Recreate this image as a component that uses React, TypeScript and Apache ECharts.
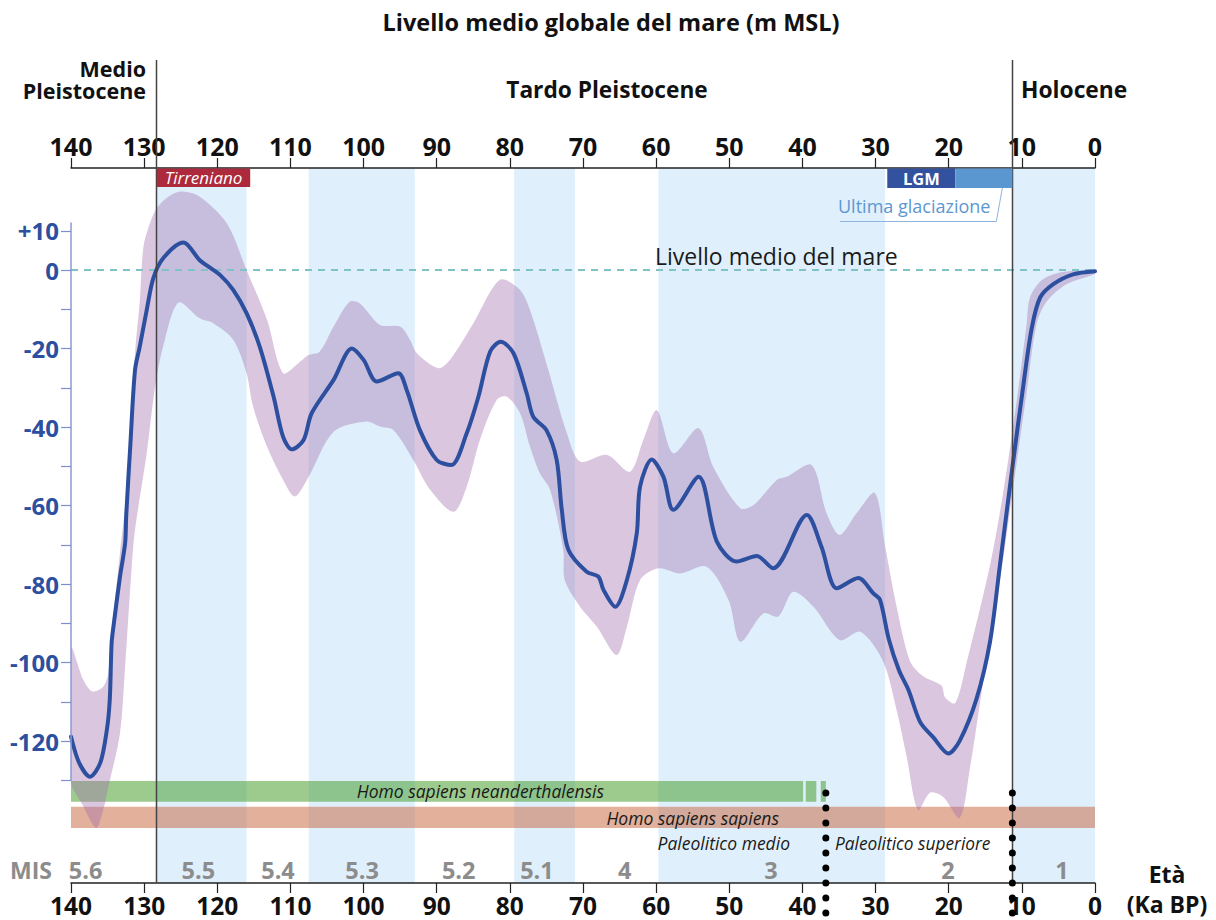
import React, { useEffect, useRef } from 'react';
import * as echarts from 'echarts';

// ---- data (age in ka BP, sea level in m relative to present) ----
const MEAN_AGE = [140, 138.9, 137.4, 136, 135.1, 134.7, 134.45, 134.2, 133.3, 132.6, 132.45, 131.9, 131.25, 130.6, 129.65, 128.75, 127.4, 124.65, 122.4, 121.2, 119.6, 117.8, 116, 114.2, 112.3, 111, 109.8, 108.2, 107.1, 104.1, 101.6, 100, 98.2, 95.25, 94.1, 92.3, 90, 88, 85.9, 84.3, 82.7, 81.25, 79.5, 77.7, 76.8, 75, 73.6, 72.9, 72, 69.5, 67.9, 67.2, 65.6, 64, 62.65, 62.2, 60.6, 59, 57.65, 54.2, 51.7, 49, 46.25, 44, 39.4, 37.4, 35.3, 32.35, 30.3, 29.4, 28.2, 26.8, 25.5, 23.9, 22.1, 20.05, 18.5, 16.2, 14.35, 13, 11.4, 9.8, 8.65, 7.5, 5.7, 3, 0];
const MEAN_SL = [-118.9, -125.5, -129.1, -125.6, -117.2, -109.5, -95.1, -90.9, -78.1, -69.6, -62.5, -45, -25.5, -19.5, -10.2, -2.1, 3, 7, 2.5, 0.85, -1.3, -5.1, -11, -19.5, -32.3, -42.5, -45.7, -43.3, -36.5, -28, -20, -22.9, -28.4, -26.3, -30.6, -40.8, -48.4, -49.7, -41.6, -32.3, -20.8, -18.3, -21.2, -31.4, -37.4, -40.8, -48.4, -61.1, -71.3, -76.9, -78.1, -81.5, -85.8, -79, -67.1, -55.2, -48.3, -52.7, -61.1, -52.7, -69.2, -74.3, -72.9, -76, -62.4, -70.5, -81.1, -78.5, -82.4, -84, -94, -102, -107, -115.2, -119.1, -123.2, -120, -109.3, -94.7, -75.2, -51.8, -29.4, -14.8, -7, -3.6, -1.1, -0.3];

const UP_AGE = [140, 138.3, 137.1, 135.6, 134.9, 134.6, 134.1, 133.3, 132.5, 131.9, 131.2, 130.6, 130.1, 129.2, 128.3, 126.6, 124.9, 122.4, 118.7, 116, 113.2, 111, 108.7, 107.6, 106, 104.1, 101.9, 100.5, 97.75, 95, 93.65, 92.7, 89.8, 88.2, 85, 81.35, 78.6, 77.25, 75, 72.2, 70.4, 66.75, 63.6, 61.75, 59.9, 57.65, 54.2, 52.2, 48.5, 46.7, 43.5, 42.15, 38.75, 36.7, 34.9, 32.6, 30.1, 28.7, 27.1, 25.3, 23.5, 21, 20.5, 19.1, 17.5, 14.35, 12.55, 10.7, 9.35, 8.9, 7.3, 4.8, 0];
const UP_SL = [-96.3, -104.5, -107.4, -106.2, -102.7, -94, -86, -72, -58, -40, -20, -8, 5.9, 12, 15.7, 18.8, 20, 18.7, 11.9, 0, -12.7, -26.3, -23.4, -21.7, -20.8, -14.4, -8.1, -8.5, -14, -14.4, -17.8, -21.2, -25, -22.9, -13.6, -2.5, -5.1, -10.2, -23.8, -41.6, -48.8, -47.1, -51.4, -43.3, -35.7, -46.7, -40.3, -50.1, -60.7, -59.9, -53.5, -52.7, -49.7, -62, -67.5, -62, -56.8, -70.4, -86, -99.6, -103.5, -105.9, -108.9, -110.3, -99.6, -75.2, -56.7, -33.3, -13.8, -7, -2.6, -0.6, -0.2];

const LOW_AGE = [140, 138.5, 136.6, 135.8, 134.7, 133.3, 132.6, 131.7, 131.25, 129.65, 128.5, 127.4, 125.3, 122.4, 120.5, 117.8, 116, 115.1, 113.2, 111, 109.4, 107.6, 104.1, 99.6, 97.75, 95.9, 93.2, 90.9, 87.7, 85.9, 84.1, 81.8, 80.4, 78.6, 77.25, 75.9, 74.5, 72.7, 72.5, 70.4, 68.1, 65.4, 64, 62.2, 59.7, 56.7, 53.1, 50.1, 48.5, 45.35, 43.3, 41.25, 38.5, 34.9, 32.1, 29, 27.1, 25.75, 24.2, 22.55, 20.75, 18.5, 17.1, 14.85, 13, 11.2, 9.35, 8, 6.6, 3.9, 0];
const LOW_SL = [-130.5, -136, -142.2, -139, -130.2, -118, -101, -75.6, -66.2, -46.7, -29.7, -19.5, -8.3, -12.3, -13.6, -17.8, -26.3, -34.8, -45, -53.5, -57.7, -53, -41.2, -38.6, -39.9, -40.8, -48.4, -56, -61.6, -55.2, -43.3, -33.1, -32.3, -36.5, -45, -51.8, -56, -71.3, -79, -85.8, -90.9, -98.1, -90.9, -79, -76, -77.3, -75.6, -84.1, -94.7, -87.5, -88.3, -82, -85.8, -94.3, -92.2, -99.6, -112.3, -124, -137.6, -133.2, -134.3, -139.6, -126.9, -99.6, -79.1, -55.7, -31.3, -13.8, -8, -3.6, -1];

// shaded MIS stages (odd stages / interstadials)
const MIS_BANDS: [number, number][] = [[128.4, 116], [107.5, 93], [79.4, 71.1], [59.7, 28.7], [11.3, 0]];
const MIS_LABELS = ['5.6', '5.5', '5.4', '5.3', '5.2', '5.1', '4', '3', '2', '1'];
const MIS_LABEL_AGES = [138, 122.6, 111.7, 100.2, 87, 76.3, 64.3, 44.3, 20.1, 4.5];

const NEANDERTHAL_SPANS: [number, number][] = [[140, 39.9], [39.55, 38.1], [37.5, 36.8]];
const SAPIENS_SPAN: [number, number] = [140, 0];

const BOUNDARY_AGES = [128.4, 11.3];
const UPPER_PALEO_START = 36.8;
const TIRRENIANO_SPAN: [number, number] = [128.4, 115.5];
const LGM_SPAN: [number, number] = [28.4, 19.1];
const GLACIATION_END = 11.3;

const Y_TICKS = [-130, -120, -110, -100, -90, -80, -70, -60, -50, -40, -30, -20, -10, 0, 10];
const Y_LABEL_VALUES = [10, 0, -20, -40, -60, -80, -100, -120];
const Y_LABEL_TEXT: Record<string, string> = { '10': '+10', '0': '0', '-20': '-20', '-40': '-40', '-60': '-60', '-80': '-80', '-100': '-100', '-120': '-120' };

const FONT = '"Open Sans", "Noto Sans", sans-serif';

export default function App() {
  const ref = useRef<HTMLDivElement>(null);
  useEffect(() => {
    const chart = echarts.init(ref.current!, null, { renderer: 'svg' });
    const xAxisCommon = {
      type: 'value', min: 0, max: 140, interval: 10, inverse: true, gridIndex: 0, z: 10,
      axisLine: { show: true, onZero: false, lineStyle: { color: '#222', width: 1.5 } },
      axisTick: { show: true, length: 10, lineStyle: { color: '#222', width: 1.2 } },
      splitLine: { show: false },
    };
    const option: any = {
      animation: false,
      textStyle: { fontFamily: FONT },
      grid: [
        { left: 71, right: 121, top: 168, height: 715 },
        { left: 71, right: 121, top: 222.9, height: 557.4 },
      ],
      xAxis: [
        { ...xAxisCommon, position: 'bottom', axisLabel: { fontSize: 24.5, lineHeight: 22, fontWeight: 'bold', color: '#111', margin: 11, fontFamily: FONT } },
        { ...xAxisCommon, position: 'top', axisLabel: { fontSize: 25, lineHeight: 22, fontWeight: 'bold', color: '#111', margin: 11, fontFamily: FONT } },
        { type: 'value', gridIndex: 1, min: 0, max: 140, inverse: true, show: false },
      ],
      yAxis: [
        { type: 'value', gridIndex: 0, min: -156.2, max: 26, show: false },
        {
          type: 'value', gridIndex: 1, min: -130, max: 12, position: 'left', z: 10,
          axisLine: { show: true, onZero: false, lineStyle: { color: '#8a9ad2', width: 1.5 } },
          axisTick: { show: true, length: 10, customValues: Y_TICKS, lineStyle: { color: '#7d8fcc', width: 1.2 } },
          axisLabel: {
            customValues: Y_LABEL_VALUES, margin: 12, fontSize: 24, fontWeight: 'bold', color: '#2d4f9f', fontFamily: FONT,
            formatter: (v: number) => Y_LABEL_TEXT[String(v)] ?? '',
          },
          splitLine: { show: false },
        },
      ],
      series: [
        {
          type: 'line', xAxisIndex: 0, yAxisIndex: 0, data: [[300, 0]], symbol: 'none', lineStyle: { width: 0 }, silent: true,
          markArea: { silent: true, z: 1, itemStyle: { color: '#dff0fc' }, data: MIS_BANDS.map(([a, b]) => [{ xAxis: a }, { xAxis: b }]) },
        },
        {
          type: 'line', xAxisIndex: 0, yAxisIndex: 0, data: [[300, 0]], symbol: 'none', lineStyle: { width: 0 }, silent: true,
          markArea: {
            silent: true, z: 2,
            data: [
              ...NEANDERTHAL_SPANS.map(([a, b]) => [
                { xAxis: a, yAxis: -130.2, itemStyle: { color: 'rgba(59,151,29,0.5)' } },
                { xAxis: b, yAxis: -135.5 },
              ]),
              [
                { xAxis: SAPIENS_SPAN[0], yAxis: -136.8, itemStyle: { color: 'rgba(197,97,55,0.5)' } },
                { xAxis: SAPIENS_SPAN[1], yAxis: -142.2 },
              ],
            ],
          },
        },
        {
          type: 'custom', xAxisIndex: 0, yAxisIndex: 0, z: 3, silent: true, clip: true,
          data: [[70, -50]],
          renderItem: (_p: any, api: any) => {
            const pts: number[][] = [];
            UP_AGE.forEach((a, i) => pts.push(api.coord([a, UP_SL[i]])));
            for (let i = LOW_AGE.length - 1; i >= 0; i--) pts.push(api.coord([LOW_AGE[i], LOW_SL[i]]));
            return { type: 'polygon', shape: { points: pts, smooth: 0.3 }, style: { fill: 'rgba(162,112,175,0.4)' } };
          },
        },
        {
          type: 'line', xAxisIndex: 0, yAxisIndex: 0, z: 4, silent: true,
          data: MEAN_AGE.map((a, i) => [a, MEAN_SL[i]]),
          smooth: 0.3, symbol: 'none',
          lineStyle: { color: '#2d4f9f', width: 4, cap: 'round', join: 'round' },
          markLine: {
            silent: true, z: 3.5, symbol: 'none', label: { show: false },
            lineStyle: { type: [7, 6], color: '#7fc3c5', width: 2 },
            data: [[{ coord: [140, 0] }, { coord: [0, 0] }]],
          },
        },
      ],
    };
    chart.setOption(option);

    const px = (a: number) => chart.convertToPixel({ xAxisIndex: 0 }, a) as number;
    const txt = (text: string, x: number, y: number, font: string, fill: string, align = 'center', extra: any = {}) => ({
      type: 'text', x, y, z: 30, silent: true,
      style: { text, font, fill, align, verticalAlign: 'middle', ...extra },
    });
    const g: any[] = [];
    g.push(txt('Livello medio globale del mare (m MSL)', 611, 22, `bold 23.5px ${FONT}`, '#111'));
    g.push(txt('Medio\nPleistocene', 146, 79.5, `bold 21.5px ${FONT}`, '#111', 'right', { lineHeight: 22 }));
    g.push(txt('Tardo Pleistocene', 607, 89, `bold 22.7px ${FONT}`, '#111'));
    g.push(txt('Holocene', 1021, 89, `bold 22.8px ${FONT}`, '#111', 'left'));
    BOUNDARY_AGES.forEach((a) => {
      const x = Math.round(px(a)) + 0.5;
      g.push({ type: 'line', z: 25, silent: true, shape: { x1: x, y1: 60, x2: x, y2: 883 }, style: { stroke: '#444', lineWidth: 1.5 } });
    });
    // Tirreniano
    const t0 = px(TIRRENIANO_SPAN[0]) + 1, t1 = px(TIRRENIANO_SPAN[1]);
    g.push({ type: 'rect', z: 26, silent: true, shape: { x: t0, y: 168.5, width: t1 - t0, height: 18.5 }, style: { fill: '#ad2a3c' } });
    g.push(txt('Tirreniano', (t0 + t1) / 2, 177.5, `italic 17px ${FONT}`, '#fff'));
    // LGM + Ultima glaciazione
    const l0 = px(LGM_SPAN[0]), l1 = px(LGM_SPAN[1]), l2 = px(GLACIATION_END);
    g.push({ type: 'rect', z: 26, silent: true, shape: { x: l0, y: 168.5, width: l1 - l0, height: 19.5 }, style: { fill: '#32519f' } });
    g.push({ type: 'rect', z: 26, silent: true, shape: { x: l1, y: 168.5, width: l2 - l1, height: 19.5 }, style: { fill: '#5a96d0' } });
    g.push(txt('LGM', (l0 + l1) / 2, 178, `bold 16.5px ${FONT}`, '#fff'));
    g.push(txt('Ultima glaciazione', 838, 206, `18px ${FONT}`, '#5b97d0', 'left'));
    g.push({ type: 'polyline', z: 26, silent: true, shape: { points: [[840, 221.5], [l2 - 16, 221.5], [l2 - 10, 188]] }, style: { stroke: '#8fb4de', lineWidth: 1, fill: null } });
    g.push(txt('Livello medio del mare', 655, 256, `23px ${FONT}`, '#1a1a1a', 'left'));
    // human / culture labels
    g.push(txt('Homo sapiens neanderthalensis', 604, 791, `italic 17.5px ${FONT}`, '#1a1a1a', 'right'));
    g.push(txt('Homo sapiens sapiens', 779, 818, `italic 17.5px ${FONT}`, '#1a1a1a', 'right'));
    g.push(txt('Paleolitico medio', 790, 843, `italic 17.5px ${FONT}`, '#1a1a1a', 'right'));
    g.push(txt('Paleolitico superiore', 835, 843, `italic 17.3px ${FONT}`, '#1a1a1a', 'left'));
    [UPPER_PALEO_START, GLACIATION_END].forEach((a) => {
      const x = px(a);
      g.push({ type: 'line', z: 28, silent: true, shape: { x1: x, y1: 793, x2: x, y2: 913.5 }, style: { stroke: '#000', lineWidth: 7, lineDash: [0.1, 14.9], lineCap: 'round' } });
    });
    // MIS
    g.push(txt('MIS', 10, 870, `bold 23px ${FONT}`, '#8c8c8c', 'left'));
    MIS_LABELS.forEach((l, i) => g.push(txt(l, px(MIS_LABEL_AGES[i]), 870, `bold 23.5px ${FONT}`, '#8c8c8c')));
    g.push(txt('Età\n(Ka BP)', 1167, 889, `bold 23px ${FONT}`, '#111', 'center', { lineHeight: 30 }));
    chart.setOption({ graphic: g });
    return () => chart.dispose();
  }, []);
  return <div ref={ref} style={{ position: 'absolute', left: 0, top: 0, width: 1216, height: 920 }} />;
}
